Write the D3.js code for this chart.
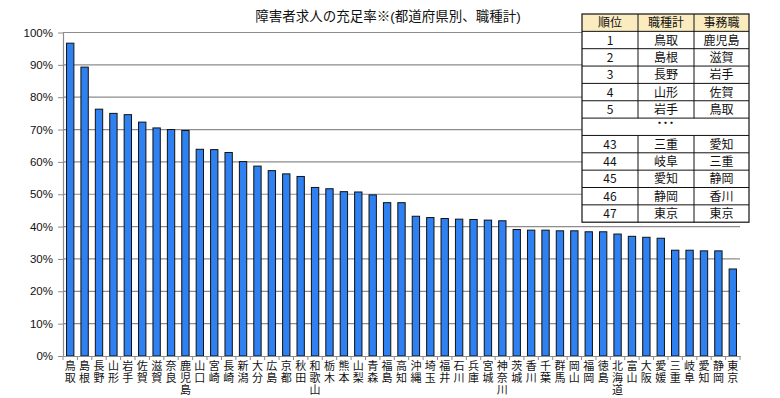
<!DOCTYPE html>
<html>
<head>
<meta charset="utf-8">
<script src="https://cdn.jsdelivr.net/npm/d3@7"></script>
<style>
  body { margin: 0; background: #fff; }
  svg { font-family: Arial, "Liberation Sans", "Noto Sans CJK JP", sans-serif; }
</style>
</head>
<body>
<div id="chart"></div>
<script>
// data
const prefs = ["鳥取","島根","長野","山形","岩手","佐賀","滋賀","奈良","鹿児島","山口",
  "宮崎","長崎","新潟","大分","広島","京都","秋田","和歌山","栃木","熊本",
  "山梨","青森","福島","高知","沖縄","埼玉","福井","石川","兵庫","宮城",
  "神奈川","茨城","香川","千葉","群馬","岡山","福岡","徳島","北海道","富山",
  "大阪","愛媛","三重","岐阜","愛知","静岡","東京"];
const rates = [96.7, 89.3, 76.3, 75.0, 74.6, 72.3, 70.5, 70.0, 69.7, 63.9,
  63.8, 62.9, 60.1, 58.7, 57.3, 56.3, 55.5, 52.1, 51.7, 50.8,
  50.7, 49.8, 47.4, 47.4, 43.2, 42.8, 42.5, 42.3, 42.2, 42.0,
  41.8, 39.1, 38.9, 38.9, 38.7, 38.7, 38.4, 38.4, 37.7, 37.0,
  36.7, 36.4, 32.7, 32.7, 32.5, 32.5, 26.9];
const yTicks = [0, 10, 20, 30, 40, 50, 60, 70, 80, 90, 100];

const tableHeader = ["順位", "職種計", "事務職"];
const rankTop = [1, 2, 3, 4, 5];
const totalTop = ["鳥取", "島根", "長野", "山形", "岩手"];
const officeTop = ["鹿児島", "滋賀", "岩手", "佐賀", "鳥取"];
const rankBottom = [43, 44, 45, 46, 47];
const totalBottom = ["三重", "岐阜", "愛知", "静岡", "東京"];
const officeBottom = ["愛知", "三重", "静岡", "香川", "東京"];

const title = "障害者求人の充足率※(都道府県別、職種計)";

const W = 780, H = 398;
const margin = { top: 32.5, right: 40, bottom: 42, left: 63 };
const width = W - margin.left - margin.right;
const height = H - margin.top - margin.bottom;

const svg = d3.select("#chart").append("svg")
  .attr("width", W).attr("height", H);

svg.append("text")
  .attr("x", 388).attr("y", 21)
  .attr("text-anchor", "middle")
  .attr("font-size", 13.5)
  .attr("fill", "#111")
  .text(title);

const g = svg.append("g")
  .attr("transform", "translate(" + margin.left + "," + margin.top + ")");

const x = d3.scaleBand().domain(prefs).range([0, width]).paddingInner(0.49).paddingOuter(0.245);
const y = d3.scaleLinear().domain([0, 100]).range([height, 0]);

// gridlines
g.append("g").selectAll("line").data(yTicks.filter(d => d > 0)).join("line")
  .attr("x1", 0).attr("x2", width)
  .attr("y1", d => y(d)).attr("y2", d => y(d))
  .attr("stroke", "#8c8c8c").attr("stroke-width", 1.2);

// bars
g.append("g").selectAll("rect").data(rates).join("rect")
  .attr("x", (d, i) => x(prefs[i]))
  .attr("y", d => y(d))
  .attr("width", x.bandwidth())
  .attr("height", d => height - y(d))
  .attr("fill", "#2f80f0")
  .attr("stroke", "#111")
  .attr("stroke-width", 1);

// y axis
const yAxis = g.append("g")
  .call(d3.axisLeft(y).tickValues(yTicks).tickFormat(d => d + "%").tickSize(5).tickSizeOuter(0));
yAxis.select(".domain").attr("stroke", "#8c8c8c").attr("stroke-width", 1.2);
yAxis.selectAll(".tick line").attr("stroke", "#8c8c8c");
yAxis.selectAll("text").attr("font-size", 11.5).attr("fill", "#111").attr("dx", -2);

// x axis
const xAxis = g.append("g").attr("transform", "translate(0," + height + ")")
  .call(d3.axisBottom(x).tickSize(0).tickFormat(""));
xAxis.select(".domain").attr("stroke", "#8c8c8c").attr("stroke-width", 1.2);

// tick marks between categories
const step = x.step();
g.append("g").selectAll("line").data(d3.range(prefs.length + 1)).join("line")
  .attr("x1", i => i * step).attr("x2", i => i * step)
  .attr("y1", height).attr("y2", height + 4)
  .attr("stroke", "#8c8c8c");

// vertical category labels (stacked characters)
g.append("g").selectAll("text").data(prefs).join("text")
  .attr("x", d => x(d) + x.bandwidth() / 2)
  .attr("y", height + 4)
  .attr("font-size", 11)
  .attr("fill", "#111")
  .style("writing-mode", "vertical-rl")
  .style("text-orientation", "upright")
  .style("letter-spacing", "1px")
  .attr("font-family", "'Noto Sans CJK JP', sans-serif")
  .text(d => d);

// ranking table
const rows = [tableHeader]
  .concat(rankTop.map((r, i) => [r, totalTop[i], officeTop[i]]))
  .concat([["…"]])
  .concat(rankBottom.map((r, i) => [r, totalBottom[i], officeBottom[i]]));

const tx = 582, ty = 14, rowH = 17.35;
const colX = [0, 56, 112, 167];
const tbl = svg.append("g").attr("transform", "translate(" + tx + "," + ty + ")");

tbl.append("rect")
  .attr("x", 0).attr("y", 0)
  .attr("width", colX[3]).attr("height", rowH * rows.length)
  .attr("fill", "#fff");
tbl.append("rect")
  .attr("x", 0).attr("y", 0)
  .attr("width", colX[3]).attr("height", rowH)
  .attr("fill", "#fbecc0");

rows.forEach((row, ri) => {
  if (ri > 0) {
    tbl.append("line")
      .attr("x1", 0).attr("x2", colX[3])
      .attr("y1", ri * rowH).attr("y2", ri * rowH)
      .attr("stroke", "#111");
  }
  if (row.length === 1) {
    tbl.append("text")
      .attr("x", colX[3] / 2).attr("y", ri * rowH + rowH / 2 + 1)
      .attr("text-anchor", "middle")
      .attr("font-size", 12).attr("font-weight", "bold")
      .attr("fill", "#111")
      .text("･･･");
  } else {
    row.forEach((cell, ci) => {
      tbl.append("text")
        .attr("x", (colX[ci] + colX[ci + 1]) / 2)
        .attr("y", ri * rowH + rowH / 2 + 4.5)
        .attr("text-anchor", "middle")
        .attr("font-size", 12)
        .attr("fill", "#111")
        .attr("font-family", "'Noto Sans CJK JP', sans-serif")
        .text(cell);
    });
  }
});

// column separators (skip the ellipsis row)
[1, 2].forEach(c => {
  [[0, 6], [7, 12]].forEach(([a, b]) => {
    tbl.append("line")
      .attr("x1", colX[c]).attr("x2", colX[c])
      .attr("y1", a * rowH).attr("y2", b * rowH)
      .attr("stroke", "#111");
  });
});
tbl.append("rect")
  .attr("x", 0).attr("y", 0)
  .attr("width", colX[3]).attr("height", rowH * rows.length)
  .attr("fill", "none").attr("stroke", "#111").attr("stroke-width", 1.2);
</script>
</body>
</html>
